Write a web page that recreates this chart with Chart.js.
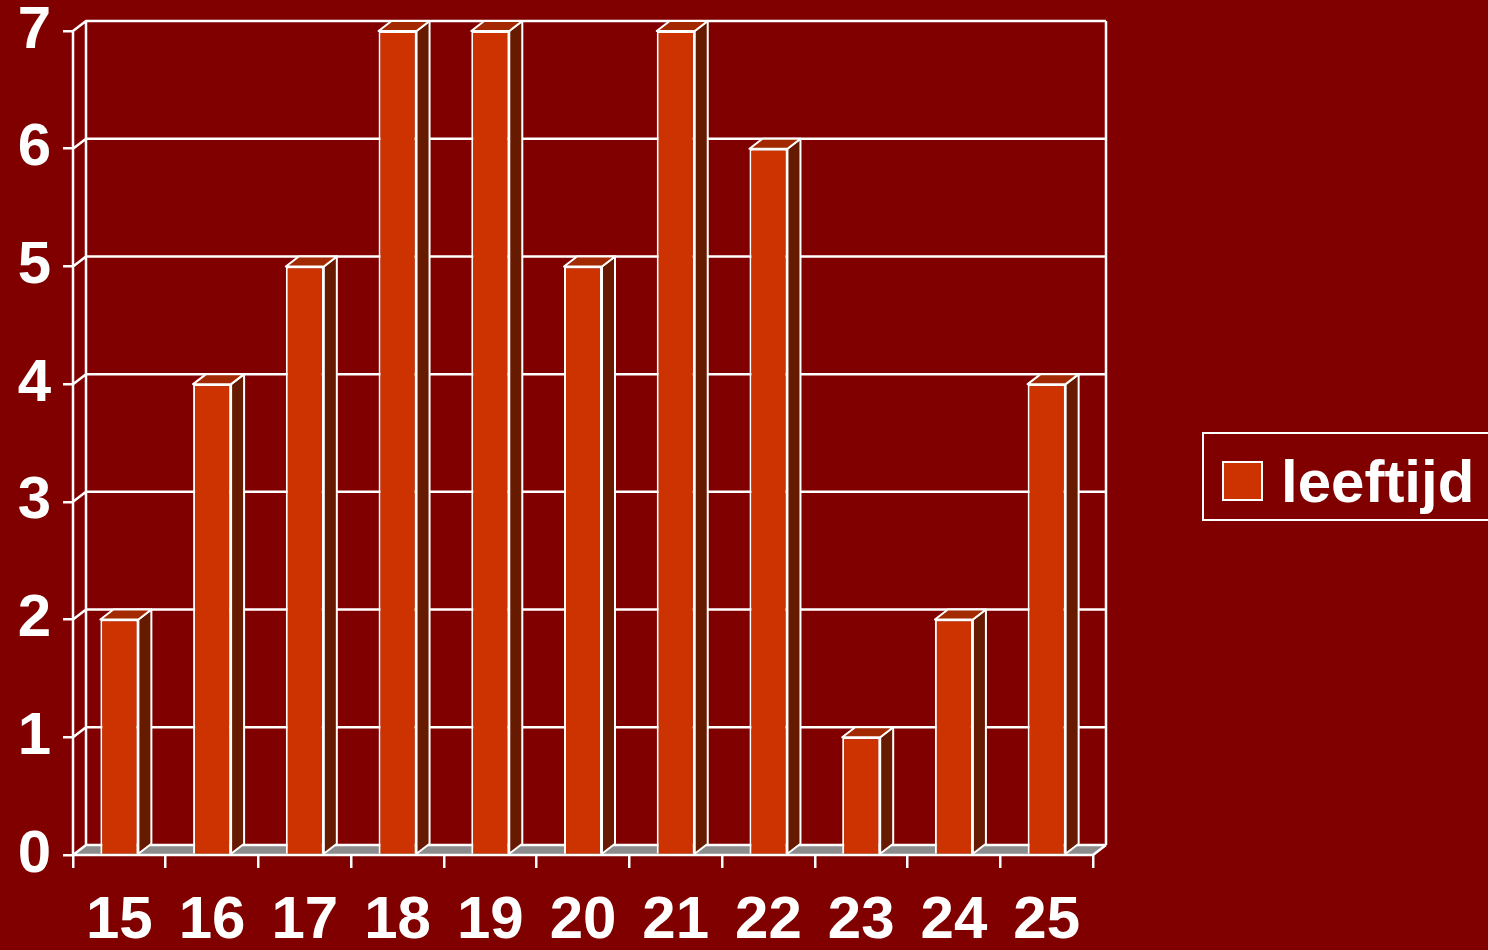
<!DOCTYPE html>
<html>
<head>
<meta charset="utf-8">
<script src="https://cdn.jsdelivr.net/npm/chart.js@4"></script>
<style>
  html, body { margin: 0; padding: 0; background: #800000; }
  canvas { display: block; }
</style>
</head>
<body>
<canvas id="ageChart" width="1488" height="950"></canvas>
<script>
// data
const ages = ['15', '16', '17', '18', '19', '20', '21', '22', '23', '24', '25'];
const counts = [2, 4, 5, 7, 7, 5, 7, 6, 1, 2, 4];
const seriesName = 'leeftijd';
const yTicks = [0, 1, 2, 3, 4, 5, 6, 7];

const DX = 13, DY = -10;
const labelFont = { family: "'Liberation Sans', Arial, sans-serif", size: 60, weight: 'bold', lineHeight: 1 };

// back walls, grid lines and floor of the fake 3D box
const wallPlugin = {
    id: 'wall3d',
    beforeDatasetsDraw(chart) {
        const ctx = chart.ctx;
        const y = chart.scales.y;
        const left = chart.chartArea.left, right = chart.chartArea.right;
        const y0 = y.getPixelForValue(0), yTop = y.getPixelForValue(7);
        ctx.save();
        // floor
        ctx.fillStyle = '#8c8c8c';
        ctx.beginPath();
        ctx.moveTo(left, y0);
        ctx.lineTo(left + DX, y0 + DY);
        ctx.lineTo(right + DX, y0 + DY);
        ctx.lineTo(right, y0);
        ctx.closePath();
        ctx.fill();

        ctx.strokeStyle = '#ffffff';
        ctx.lineWidth = 2.5;
        ctx.beginPath();
        yTicks.forEach(v => {
            const py = y.getPixelForValue(v);
            ctx.moveTo(left, py);
            ctx.lineTo(left + DX, py + DY);
            ctx.lineTo(right + DX, py + DY);
        });
        // walls edges
        ctx.moveTo(left, y0); ctx.lineTo(left, yTop);
        ctx.moveTo(left + DX, y0 + DY); ctx.lineTo(left + DX, yTop + DY);
        ctx.moveTo(right + DX, y0 + DY); ctx.lineTo(right + DX, yTop + DY);
        ctx.moveTo(left, y0); ctx.lineTo(right, y0); ctx.lineTo(right + DX, y0 + DY);
        ctx.stroke();
        ctx.restore();
    },
    afterDatasetsDraw(chart) {
        const ctx = chart.ctx;
        const meta = chart.getDatasetMeta(0);
        ctx.save();
        ctx.strokeStyle = '#ffffff';
        ctx.lineWidth = 2;
        ctx.lineJoin = 'round';
        meta.data.forEach(bar => {
            const p = bar.getProps(['x', 'y', 'base', 'width'], true);
            const l = p.x - p.width / 2, r = p.x + p.width / 2;
            // side
            ctx.fillStyle = '#661a00';
            ctx.beginPath();
            ctx.moveTo(r, p.y);
            ctx.lineTo(r + DX, p.y + DY);
            ctx.lineTo(r + DX, p.base + DY);
            ctx.lineTo(r, p.base);
            ctx.closePath();
            ctx.fill();
            ctx.stroke();
            // top
            ctx.fillStyle = '#a32900';
            ctx.beginPath();
            ctx.moveTo(l, p.y);
            ctx.lineTo(l + DX, p.y + DY);
            ctx.lineTo(r + DX, p.y + DY);
            ctx.lineTo(r, p.y);
            ctx.closePath();
            ctx.fill();
            ctx.stroke();
        });
        ctx.restore();
    },
    afterDraw(chart) {
        const ctx = chart.ctx;
        const ds = chart.data.datasets[0];
        ctx.save();
        ctx.strokeStyle = '#ffffff';
        ctx.lineWidth = 2;
        ctx.strokeRect(1203, 433, 290, 87);
        ctx.fillStyle = ds.backgroundColor;
        ctx.fillRect(1223, 462, 39, 38);
        ctx.strokeRect(1223, 462, 39, 38);
        ctx.fillStyle = '#ffffff';
        ctx.font = "bold 60px 'Liberation Sans', Arial, sans-serif";
        ctx.textBaseline = 'alphabetic';
        ctx.fillText(ds.label, 1281, 502);
        ctx.restore();
    }
};

new Chart(document.getElementById('ageChart'), {
    type: 'bar',
    data: {
        labels: ages,
        datasets: [{
            label: seriesName,
            data: counts,
            backgroundColor: '#cc3300',
            borderColor: '#ffffff',
            borderWidth: 2,
            barPercentage: 0.41,
            categoryPercentage: 1
        }]
    },
    options: {
        responsive: false,
        animation: false,
        devicePixelRatio: 1,
        layout: { padding: { top: 31, right: 395, bottom: 0, left: 0 } },
        plugins: {
            legend: { display: false },
            tooltip: { enabled: false }
        },
        scales: {
            x: {
                grid: { display: true, drawOnChartArea: false, offset: true, color: '#ffffff', lineWidth: 2.5, tickLength: 13 },
                border: { display: false },
                ticks: { color: '#ffffff', font: labelFont, padding: 23, maxRotation: 0 },
                afterFit: s => { s.height = 95; s.paddingLeft = 0; s.paddingRight = 0; }
            },
            y: {
                min: 0,
                max: 7,
                grid: { drawOnChartArea: false, color: '#ffffff', lineWidth: 2.5, tickLength: 10 },
                border: { display: false },
                ticks: { stepSize: 1, color: '#ffffff', font: labelFont, padding: 12 },
                afterFit: s => { s.width = 73; s.paddingTop = 0; s.paddingBottom = 0; }
            }
        }
    },
    plugins: [wallPlugin]
});
</script>
</body>
</html>
